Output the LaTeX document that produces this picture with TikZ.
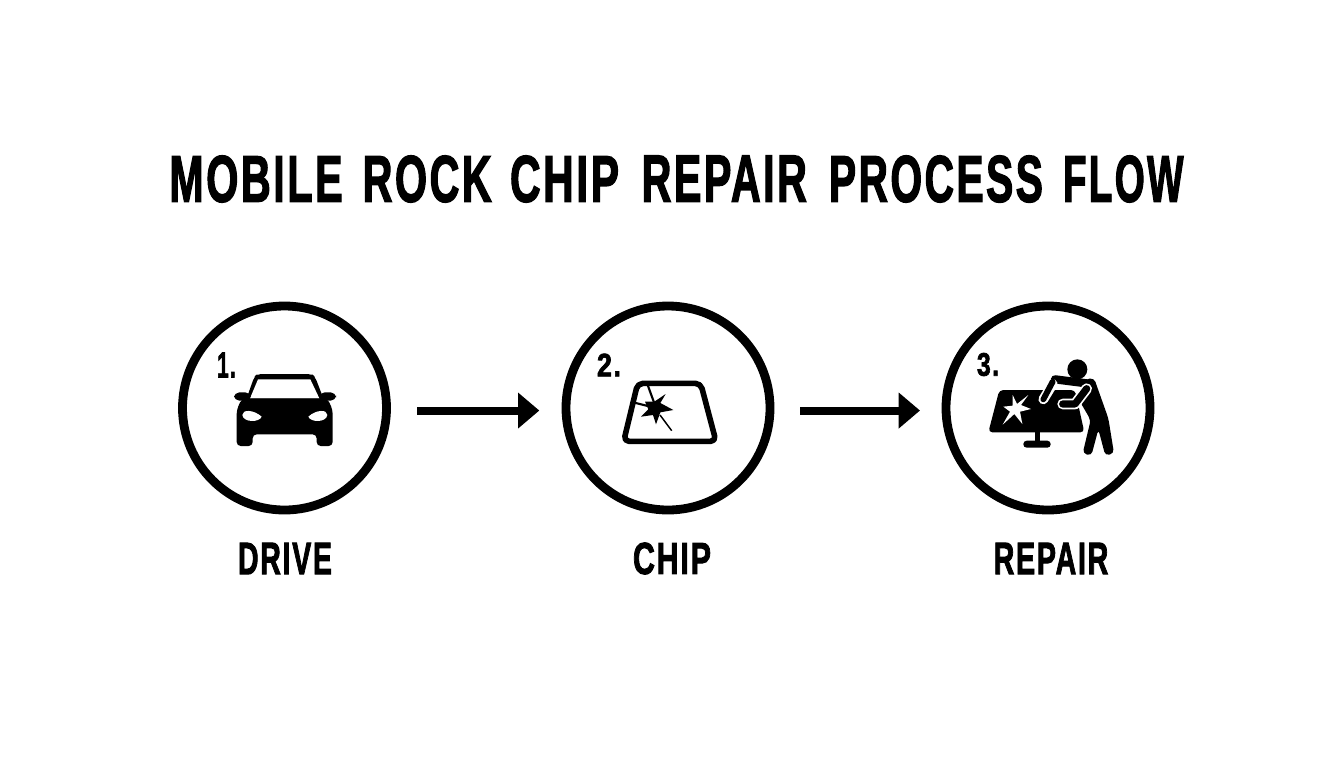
\documentclass[tikz,border=0pt]{standalone}
\usepackage{fontspec}
\usepackage{graphicx}
\usetikzlibrary{arrows.meta}
\setmainfont{Liberation Sans}[BoldFont={Liberation Sans Bold},BoldFeatures={FakeBold=2.4,LetterSpace=6}]
\newcommand{\fittext}[3]{\resizebox{#1pt}{#2pt}{\bfseries #3}}
\tikzset{
  stepring/.style={circle,draw=black,line width=6.6pt,fill=white,minimum size=153pt,inner sep=0pt,outer sep=0pt},
  flowarrow/.style={draw=black,line width=6pt,-{Triangle[length=16pt,width=26pt]}},
  caption/.style={inner sep=0pt,outer sep=0pt,text=black},
}
\begin{document}
\begin{tikzpicture}[x=.75pt,y=-.75pt]
\useasboundingbox (0,0) rectangle (1344,768);
\fill[white] (0,0) rectangle (1344,768);
\node[caption] (title) at (676.4,179) {\fittext{130}{34.5}{MOBILE}\hspace{15pt}\fittext{96.8}{34.5}{ROCK}\hspace{13.7pt}\fittext{81.8}{34.5}{CHIP}\hspace{16.9pt}\fittext{124}{34.5}{REPAIR}\hspace{16.5pt}\fittext{160.5}{34.5}{PROCESS}\hspace{15pt}\fittext{90.4}{34.5}{FLOW}};
\node[stepring] (c1) at (284.5,408) {};
\node[stepring] (c2) at (668,408) {};
\node[stepring] (c3) at (1048,408) {};
\node[caption] (l1) at (285,558.5) {\fittext{70.5}{23.5}{DRIVE}};
\node[caption] (l2) at (672,558.5) {\fittext{58.5}{23.5}{CHIP}};
\node[caption] (l3) at (1051,558.5) {\fittext{86}{23.5}{REPAIR}};
\node[caption] (n1) at (226.5,365) {\fittext{14}{18.5}{1.}};
\node[caption] (n2) at (609,365) {\fittext{18}{17}{2.}};
\node[caption] (n3) at (988,364.5) {\fittext{16.5}{17}{3.}};
\draw[flowarrow,shorten <=23pt,shorten >=20pt] ([yshift=-1.9pt]c1.east) -- ([yshift=-1.9pt]c2.west);
\draw[flowarrow,shorten <=22.5pt,shorten >=19.5pt] ([yshift=-1.9pt]c2.east) -- ([yshift=-1.9pt]c3.west);
% car
\begin{scope}[shift={(170,300)},x=.25pt,y=-.25pt]
\fill[rounded corners=3pt] (228,300) -- (253,230) -- (262,222) -- (425,222) -- (435,230) -- (462,300) -- cycle;
\fill[white] (240,295) -- (264,238) -- (421,238) -- (448,295) -- cycle;
\fill[rounded corners=4pt] (192,277) rectangle (242,302);
\fill[rounded corners=4pt] (448,277) rectangle (498,302);
\fill[rounded corners=3pt] (215,296) -- (473,296) -- (488,330) -- (488,438) -- (440,438) -- (440,403) -- (248,403) -- (248,438) -- (200,438) -- (200,330) -- cycle;
\fill[white] (217,345) .. controls (217,328) and (250,328) .. (275,350) .. controls (268,368) and (220,368) .. (217,345) -- cycle;
\fill[white] (472,345) .. controls (472,328) and (439,328) .. (415,350) .. controls (422,368) and (469,368) .. (472,345) -- cycle;
\end{scope}
% windshield
\begin{scope}[shift={(555,300)},x=.25pt,y=-.25pt]
\draw[line width=4.2pt,rounded corners=4pt,line join=round] (248,250) -- (437,250) -- (483,424) -- (206,424) -- cycle;
\fill (332,282) -- (316,309) -- (355,330) -- (316,337) -- (303,373) -- (294,345) -- (258,350) -- (280,328) -- (270,305) -- (298,305) -- cycle;
\draw[line width=1.6pt] (278,255) -- (298,310);
\draw[line width=1.6pt] (238,308) -- (295,322);
\draw[line width=1.1pt] (315,345) -- (350,392);
\end{scope}
% repair
\begin{scope}[shift={(960,340)},x=.25pt,y=-.25pt]
\fill[rounded corners=3pt] (118,150) -- (345,150) -- (373,277) -- (85,277) -- cycle;
\fill[white] (205,165) -- (183,195) -- (213,207) -- (180,215) -- (187,252) -- (163,222) -- (128,254) -- (150,215) -- (130,200) -- (158,197) -- (158,165) -- (171,192) -- cycle;
\draw[line width=4pt] (232,275) -- (232,310);
\fill[rounded corners=2.5pt] (190,302) rectangle (272,323);
\fill (352,88) circle[radius=7.5pt];
% torso and legs
\fill[rounded corners=3pt] (375,118) -- (402,114) -- (445,235) -- (462,340) -- (436,347) -- (415,268) -- (394,347) -- (368,340) -- (392,240) -- (360,185) -- cycle;
% arm reaching the tool
\draw[line width=6.2pt,line cap=round] (285,118) -- (395,132);
\draw[white,line width=8pt,line cap=round,line join=round] (380,146) -- (345,192) -- (308,192);
\draw[line width=5.4pt,line cap=round,line join=round] (380,146) -- (345,192) -- (308,192);
% tool
\draw[white,line width=7.4pt,line cap=round] (278,132) -- (250,178);
\draw[line width=4.4pt,line cap=round] (278,125) -- (250,178);
\end{scope}
\end{tikzpicture}
\end{document}
